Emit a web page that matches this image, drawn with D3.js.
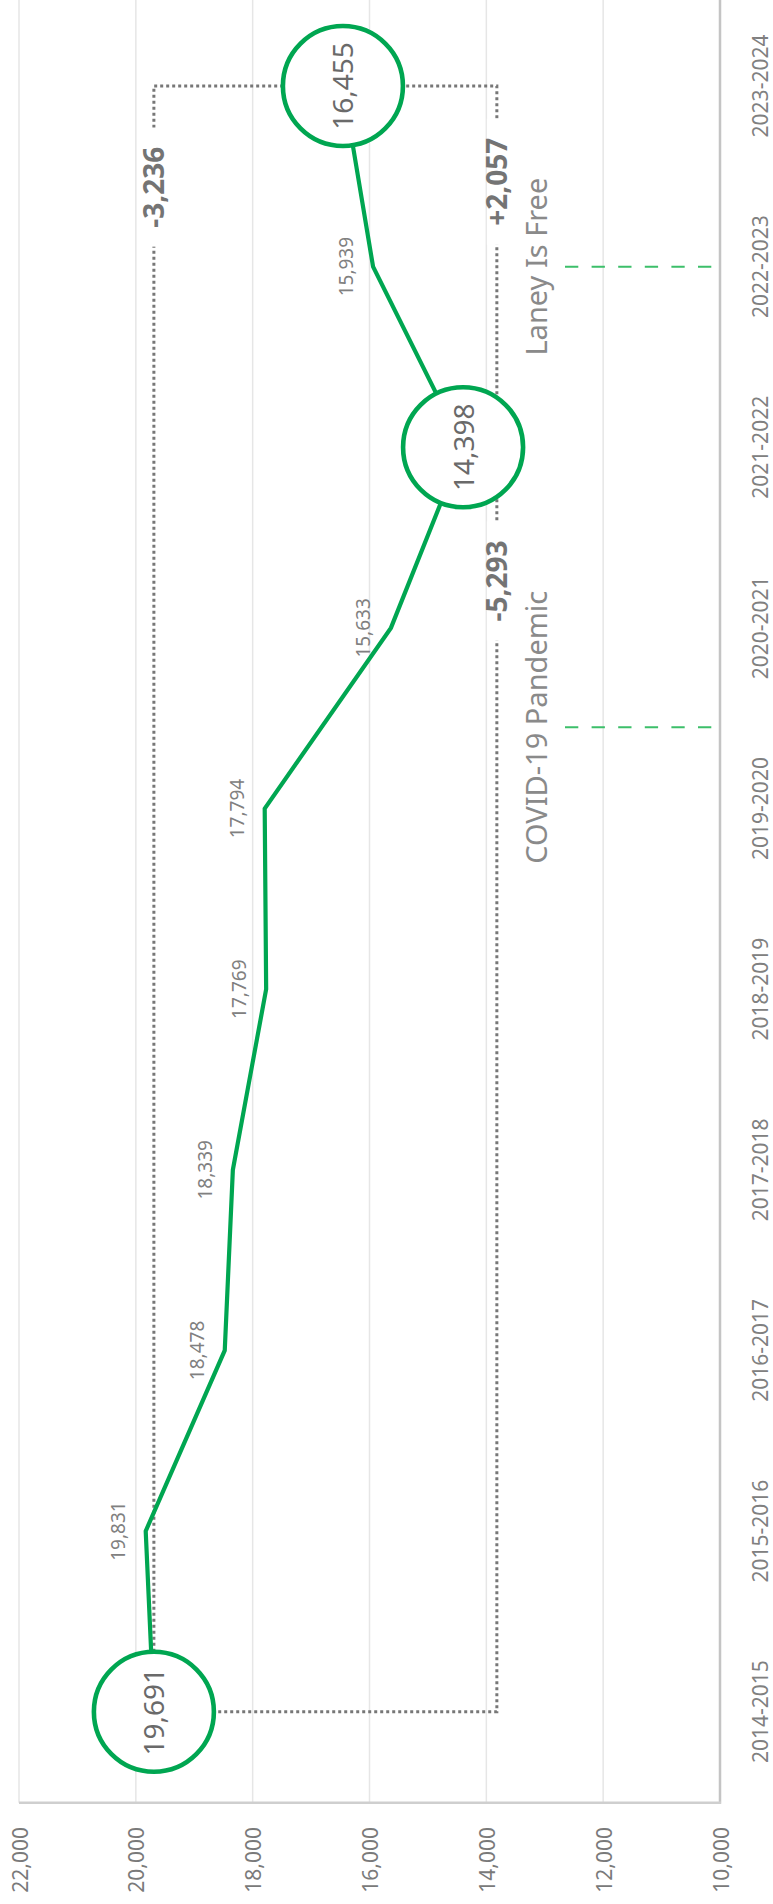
<!DOCTYPE html>
<html><head><meta charset="utf-8">
<script src="https://cdn.jsdelivr.net/npm/d3@7"></script>
<style>
body{margin:0;background:#fff}
svg{display:block}
text{font-family:"Noto Sans",sans-serif}
</style>
</head><body>
<svg id="chart" width="773" height="1904"></svg>
<script>
// ---- data ----
const categories = ["2014-2015","2015-2016","2016-2017","2017-2018","2018-2019","2019-2020","2020-2021","2021-2022","2022-2023","2023-2024"];
const enrollment = [19691,19831,18478,18339,17769,17794,15633,14398,15939,16455];
const valueTicks = [22000,20000,18000,16000,14000,12000,10000];
const highlighted = ["2014-2015","2021-2022","2023-2024"];
const changeLabels = ["-3,236","+2,057","-5,293"];
const changeSide = ["left","right","right"];
const changeAt = [8.44,8.47,6.26];          // position along category axis (index)
const eventNames = ["COVID-19 Pandemic","Laney Is Free"];
const eventAt = [5.45,8.0];                  // position along category axis (index)
const bracketRightValue = 13820;

// ---- layout ----
const svg = d3.select("#chart");
const x = d3.scaleLinear().domain([22000,10000]).range([19,720]);      // value axis (horizontal, rotated chart)
const yIdx = d3.scaleLinear().domain([0,categories.length-1]).range([1711.7,86]);
const y = d3.scalePoint().domain(categories).range([1711.7,86]);
const plotTop = -5, plotBottom = 1802.7;
const green = "#00a651", grey = "#777";

function rtext(g, px, py, str, anchor){
  return g.append("text").attr("transform",`translate(${px},${py}) rotate(-90)`)
    .attr("text-anchor",anchor||"middle").text(str);
}

// gridlines
svg.append("g").selectAll("line").data(valueTicks.filter(v=>v!==10000)).join("line")
  .attr("x1",d=>x(d)).attr("x2",d=>x(d)).attr("y1",plotTop).attr("y2",plotBottom)
  .attr("stroke","#e6e6e6").attr("stroke-width",1.5);

// axis lines
svg.append("line").attr("x1",x(10000)).attr("x2",x(10000)).attr("y1",plotTop).attr("y2",plotBottom+1)
  .attr("stroke","#c4c4c4").attr("stroke-width",2.5);
svg.append("line").attr("x1",x(22000)).attr("x2",x(10000)+1).attr("y1",plotBottom).attr("y2",plotBottom)
  .attr("stroke","#cfcfcf").attr("stroke-width",2.5);

// tick labels
const tickG = svg.append("g").attr("fill","#7a7a7a").attr("font-size",21);
valueTicks.forEach(v=>{
  rtext(tickG, x(v)+8.5, 1827, d3.format(",")(v), "end");
});

// category labels
const catG = svg.append("g").attr("fill","#808080").attr("font-size",21);
categories.forEach(c=>{ rtext(catG, 767.5, y(c), c); });

// dotted bracket
const first = categories[0], last = categories[categories.length-1];
const bL = x(enrollment[0]), bR = x(bracketRightValue);
const yTop = y(last), yBot = y(first);
svg.append("path")
  .attr("d",`M${bL},${yBot} L${bL},${yTop} L${bR},${yTop} L${bR},${yBot} L${bL},${yBot}`)
  .attr("fill","none").attr("stroke",grey).attr("stroke-width",3).attr("stroke-dasharray","3,3");

// change labels with white gaps
const chG = svg.append("g");
changeLabels.forEach((lab,i)=>{
  const lx = changeSide[i]==="left" ? bL : bR;
  const ly = yIdx(changeAt[i]);
  const t = rtext(chG, lx+10.5, ly, lab).attr("font-size",28).attr("font-weight","bold").attr("fill","#747474");
  const len = t.node().getComputedTextLength();
  chG.insert("rect","text").attr("x",lx-10).attr("width",20)
    .attr("y",ly-len/2-19).attr("height",len+38).attr("fill","#fff");
});

// event markers
const evG = svg.append("g");
eventNames.forEach((name,i)=>{
  const ey = yIdx(eventAt[i]);
  evG.append("line").attr("x1",565).attr("x2",712).attr("y1",ey).attr("y2",ey)
    .attr("stroke","#3cbf6a").attr("stroke-width",2).attr("stroke-dasharray","13.3,13.3");
  rtext(evG, 547, ey, name).attr("font-size",29).attr("fill","#8a8a8a");
});

// green line
const pts = categories.map((c,i)=>({c, v:enrollment[i]}));
svg.append("path").datum(pts)
  .attr("d", d3.line().x(d=>x(d.v)).y(d=>y(d.c)))
  .attr("fill","none").attr("stroke",green).attr("stroke-width",4.2).attr("stroke-linejoin","miter");

// small data labels
const lblG = svg.append("g").attr("fill","#808080").attr("font-size",19);
pts.filter(d=>!highlighted.includes(d.c)).forEach(d=>{
  rtext(lblG, x(d.v)-20.5, y(d.c), d3.format(",")(d.v));
});

// highlighted circles
const hiG = svg.append("g");
pts.filter(d=>highlighted.includes(d.c)).forEach(d=>{
  hiG.append("circle").attr("cx",x(d.v)).attr("cy",y(d.c)).attr("r",60)
    .attr("fill","#fff").attr("stroke",green).attr("stroke-width",4.6);
  rtext(hiG, x(d.v)+10.5, y(d.c), d3.format(",")(d.v)).attr("font-size",28).attr("fill","#6a6a6a");
});
</script>
</body></html>
